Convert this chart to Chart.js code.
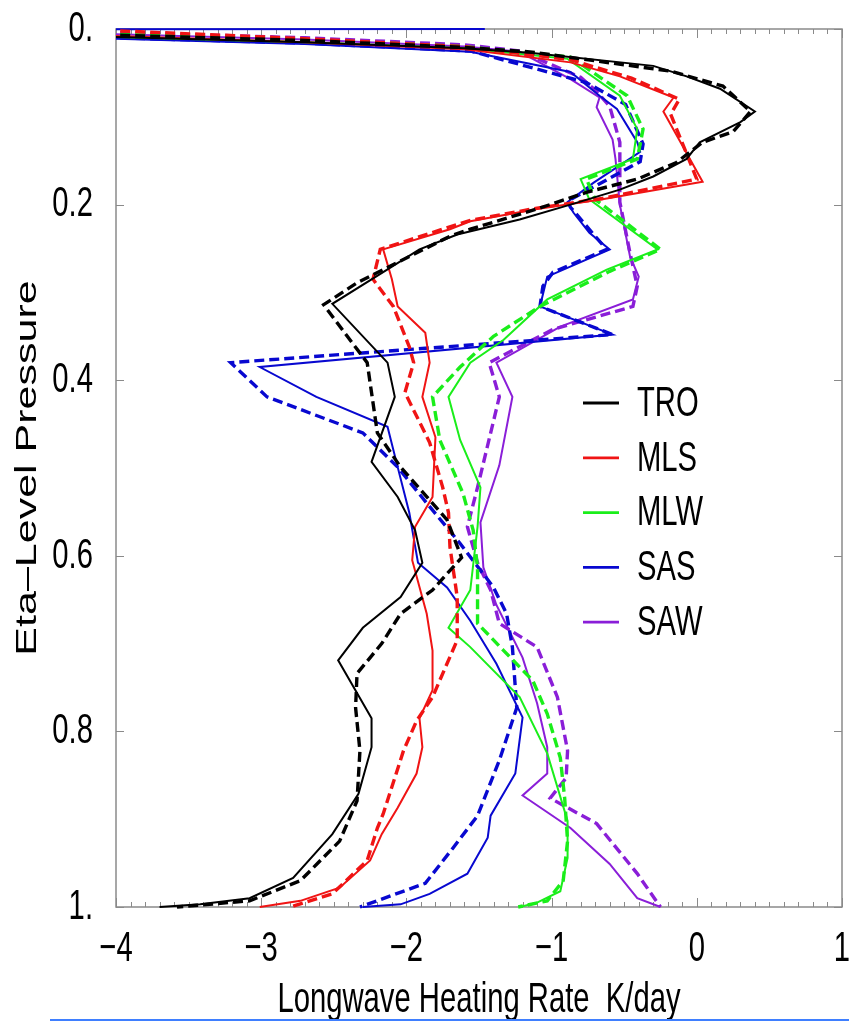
<!DOCTYPE html>
<html>
<head>
<meta charset="utf-8">
<script src="https://cdn.jsdelivr.net/npm/chart.js@4.4.1/dist/chart.umd.min.js"></script>
<style>
  html, body { margin: 0; padding: 0; background: #fff; }
  #wrap { position: relative; width: 849px; height: 1022px; overflow: hidden; }
  #rule { position: absolute; left: 50px; right: 0; top: 1019px; height: 2px; background: #3f7fff; }
</style>
</head>
<body>
<div id="wrap">
  <canvas id="lwChart" width="849" height="1022"></canvas>
  <div id="rule"></div>
</div>
<script>
// heating rate (K/day), eta level, [x, y]
const TRO = [[-8,0.001],[-4,0.009],[-2.7,0.015],[-1.6,0.022],[-1.15,0.027],[-0.30,0.042],[-0.07,0.054],[0.16,0.068],[0.40,0.094],[0.30,0.106],[0.02,0.129],[-0.07,0.148],[-0.30,0.168],[-0.53,0.183],[-0.87,0.200],[-1.22,0.217],[-1.65,0.234],[-1.91,0.251],[-2.16,0.277],[-2.51,0.313],[-2.13,0.380],[-2.08,0.419],[-2.24,0.493],[-2.06,0.533],[-1.94,0.571],[-1.89,0.608],[-2.04,0.647],[-2.30,0.682],[-2.47,0.719],[-2.24,0.785],[-2.24,0.818],[-2.33,0.871],[-2.51,0.917],[-2.78,0.967],[-3.08,0.990],[-3.42,0.997],[-3.70,1.0]];
const TRO_dash = [[-8,0.0],[-4,0.007],[-2.7,0.013],[-1.6,0.021],[-1.15,0.026],[-0.18,0.048],[0.18,0.065],[0.37,0.094],[0.25,0.117],[0.04,0.129],[-0.14,0.152],[-0.41,0.171],[-0.76,0.186],[-1.10,0.205],[-1.56,0.228],[-1.70,0.236],[-2.11,0.270],[-2.34,0.289],[-2.57,0.314],[-2.27,0.380],[-2.20,0.460],[-2.04,0.499],[-1.72,0.559],[-1.62,0.602],[-1.82,0.639],[-2.04,0.666],[-2.17,0.700],[-2.34,0.734],[-2.35,0.773],[-2.32,0.822],[-2.34,0.879],[-2.46,0.925],[-2.73,0.970],[-3.08,0.993],[-3.58,1.0]];
const MLS = [[-8,0.001],[-4,0.008],[-2.7,0.015],[-1.6,0.023],[-0.87,0.038],[-0.53,0.054],[-0.16,0.078],[-0.23,0.094],[0.04,0.174],[-0.65,0.194],[-1.10,0.205],[-1.56,0.219],[-1.70,0.228],[-2.16,0.251],[-2.10,0.285],[-2.06,0.316],[-1.87,0.346],[-1.84,0.380],[-1.89,0.419],[-1.80,0.465],[-1.82,0.533],[-1.94,0.567],[-1.96,0.605],[-1.86,0.666],[-1.82,0.708],[-1.82,0.753],[-1.91,0.785],[-1.89,0.818],[-1.93,0.848],[-2.06,0.887],[-2.17,0.917],[-2.25,0.947],[-2.46,0.978],[-2.73,0.993],[-3.01,1.0]];
const MLS_dash = [[-8,0.0],[-4,0.002],[-2.7,0.011],[-1.6,0.020],[-0.87,0.035],[-0.45,0.056],[-0.12,0.080],[-0.18,0.097],[0.0,0.171],[-0.65,0.193],[-1.10,0.204],[-1.56,0.218],[-1.75,0.228],[-2.18,0.251],[-2.23,0.285],[-2.09,0.316],[-1.98,0.362],[-1.95,0.380],[-2.01,0.414],[-1.84,0.471],[-1.75,0.522],[-1.71,0.551],[-1.70,0.590],[-1.65,0.647],[-1.65,0.696],[-1.82,0.761],[-1.93,0.788],[-2.02,0.822],[-2.16,0.894],[-2.20,0.910],[-2.27,0.947],[-2.51,0.985],[-2.80,1.0]];
const MLW = [[-8,0.001],[-4,0.009],[-2.7,0.015],[-1.6,0.022],[-0.89,0.034],[-0.53,0.076],[-0.41,0.114],[-0.44,0.148],[-0.80,0.171],[-0.74,0.194],[-0.27,0.251],[-0.62,0.274],[-1.03,0.308],[-1.33,0.354],[-1.56,0.380],[-1.71,0.419],[-1.63,0.468],[-1.49,0.522],[-1.51,0.567],[-1.56,0.639],[-1.71,0.682],[-1.56,0.704],[-1.22,0.761],[-1.03,0.825],[-0.89,0.902],[-0.89,0.944],[-0.94,0.982],[-1.10,0.995],[-1.22,1.0]];
const MLW_dash = [[-8,0.0],[-4,0.006],[-2.7,0.012],[-1.6,0.020],[-0.87,0.032],[-0.48,0.076],[-0.37,0.114],[-0.41,0.148],[-0.76,0.171],[-0.70,0.194],[-0.25,0.251],[-0.60,0.276],[-1.08,0.316],[-1.40,0.350],[-1.63,0.385],[-1.82,0.419],[-1.77,0.468],[-1.61,0.529],[-1.54,0.571],[-1.51,0.613],[-1.51,0.677],[-1.33,0.708],[-1.13,0.742],[-1.03,0.780],[-0.94,0.830],[-0.91,0.876],[-0.89,0.925],[-0.92,0.970],[-1.03,0.993],[-1.23,1.0]];
const SAS = [[-1.46,0.0],[-40,0.004],[-4,0.011],[-2.7,0.017],[-1.56,0.026],[-0.87,0.049],[-0.67,0.076],[-0.55,0.091],[-0.41,0.129],[-0.39,0.140],[-0.71,0.175],[-0.89,0.197],[-0.85,0.209],[-0.74,0.232],[-0.60,0.251],[-1.03,0.282],[-1.08,0.316],[-0.58,0.348],[-3.01,0.385],[-2.62,0.419],[-2.13,0.453],[-2.06,0.499],[-1.98,0.551],[-1.92,0.608],[-1.72,0.636],[-1.56,0.674],[-1.38,0.723],[-1.20,0.784],[-1.25,0.848],[-1.42,0.896],[-1.44,0.921],[-1.58,0.962],[-1.84,0.985],[-2.04,0.997],[-2.30,1.0]];
const SAS_dash = [[-8,0.001],[-4,0.010],[-2.7,0.016],[-1.56,0.025],[-0.76,0.061],[-0.49,0.086],[-0.37,0.131],[-0.39,0.151],[-0.89,0.196],[-0.87,0.203],[-0.70,0.236],[-0.62,0.251],[-0.99,0.277],[-1.06,0.293],[-1.08,0.316],[-0.58,0.348],[-3.21,0.380],[-2.96,0.419],[-2.30,0.460],[-2.06,0.499],[-1.86,0.540],[-1.63,0.586],[-1.40,0.636],[-1.31,0.666],[-1.27,0.704],[-1.24,0.773],[-1.36,0.833],[-1.51,0.896],[-1.68,0.933],[-1.87,0.973],[-2.32,1.0]];
const SAW = [[-8,0.0],[-4,0.006],[-2.7,0.012],[-1.6,0.020],[-1.22,0.026],[-0.87,0.057],[-0.67,0.078],[-0.69,0.089],[-0.58,0.126],[-0.56,0.148],[-0.53,0.200],[-0.46,0.259],[-0.40,0.282],[-0.44,0.308],[-0.94,0.339],[-1.38,0.380],[-1.27,0.419],[-1.36,0.497],[-1.49,0.562],[-1.47,0.613],[-1.38,0.656],[-1.20,0.716],[-1.10,0.768],[-1.03,0.818],[-1.03,0.848],[-1.20,0.873],[-0.87,0.910],[-0.60,0.951],[-0.41,0.990],[-0.25,1.0]];
const SAW_dash = [[-8,0.0],[-4,0.004],[-2.7,0.010],[-1.6,0.018],[-1.22,0.025],[-0.80,0.055],[-0.69,0.071],[-0.60,0.088],[-0.53,0.129],[-0.53,0.152],[-0.53,0.197],[-0.46,0.255],[-0.41,0.293],[-0.44,0.316],[-0.99,0.342],[-1.43,0.380],[-1.36,0.419],[-1.51,0.522],[-1.58,0.567],[-1.51,0.608],[-1.42,0.639],[-1.36,0.677],[-1.10,0.704],[-0.96,0.761],[-0.89,0.822],[-0.90,0.853],[-1.01,0.876],[-0.69,0.905],[-0.41,0.962],[-0.25,1.0]];

const names = ["TRO", "MLS", "MLW", "SAS", "SAW"];
const colors = ["#000000", "#f01414", "#1aee1a", "#0808d0", "#8a1ed8"];
const solidSeries = [TRO, MLS, MLW, SAS, SAW];
const dashedSeries = [TRO_dash, MLS_dash, MLW_dash, SAS_dash, SAW_dash];
const xTicks = [-4, -3, -2, -1, 0, 1];
const yTicks = [0, 0.2, 0.4, 0.6, 0.8, 1];

const FONT = '"Liberation Sans", Arial, Helvetica, sans-serif';
const SQUEEZE = 0.68; // the original figure's lettering is tall and narrow
const toPts = arr => arr.map(p => ({ x: p[0], y: p[1] }));

const datasets = [];
names.forEach((n, i) => {
  datasets.push({
    label: n,
    data: toPts(solidSeries[i]),
    borderColor: colors[i],
    borderWidth: 2,
    showLine: true,
    pointRadius: 0,
    clip: { left: 0, right: 0, top: 3, bottom: 3 },
  });
  datasets.push({
    label: n + " dashed",
    data: toPts(dashedSeries[i]),
    borderColor: colors[i],
    borderWidth: 3.4,
    borderDash: [10, 5],
    showLine: true,
    pointRadius: 0,
    clip: { left: 0, right: 0, top: 3, bottom: 3 },
  });
});

// condense every text glyph around its anchor point
const squeezeText = {
  id: "squeezeText",
  beforeInit(chart) {
    const ctx = chart.ctx;
    const fill = ctx.fillText.bind(ctx);
    ctx.fillText = function (text, x, y) {
      const m = ctx.getTransform();
      ctx.save();
      ctx.translate(x, y);
      if (Math.abs(m.b) > 0.5) ctx.scale(1, SQUEEZE);
      else ctx.scale(SQUEEZE, 1);
      fill(text, 0, 0);
      ctx.restore();
    };
  },
};

// frame + inward tick marks on all four sides
const frameTicks = {
  id: "frameTicks",
  beforeDatasetsDraw(chart) {
    const { ctx, chartArea: a, scales: { x, y } } = chart;
    ctx.save();
    ctx.strokeStyle = "#8a8a8a";
    ctx.lineWidth = 1.5;
    ctx.strokeRect(a.left, a.top, a.right - a.left, a.bottom - a.top);
    ctx.lineWidth = 1;
    ctx.beginPath();
    for (let i = 0; i <= 50; i++) {
      const v = xTicks[0] + i * 0.1;
      const px = Math.round(x.getPixelForValue(v)) + 0.5;
      const len = i % 10 === 0 ? 9 : 5;
      ctx.moveTo(px, a.top); ctx.lineTo(px, a.top + len);
      ctx.moveTo(px, a.bottom); ctx.lineTo(px, a.bottom - len);
    }
    yTicks.forEach(v => {
      const py = Math.round(y.getPixelForValue(v)) + 0.5;
      ctx.moveTo(a.left, py); ctx.lineTo(a.left + 8, py);
      ctx.moveTo(a.right, py); ctx.lineTo(a.right - 8, py);
    });
    ctx.stroke();
    ctx.restore();
  },
};

// legend inside the plot, solid line samples
const lineLegend = {
  id: "lineLegend",
  afterDatasetsDraw(chart) {
    const { ctx } = chart;
    ctx.save();
    ctx.font = "43px " + FONT;
    ctx.textBaseline = "middle";
    ctx.textAlign = "left";
    ctx.fillStyle = "#000";
    names.forEach((n, i) => {
      const yy = 403 + i * 54.8;
      ctx.strokeStyle = colors[i];
      ctx.lineWidth = 2.8;
      ctx.beginPath();
      ctx.moveTo(583, yy);
      ctx.lineTo(619, yy);
      ctx.stroke();
      ctx.fillText(n, 637, yy + 1);
    });
    ctx.restore();
  },
};

new Chart(document.getElementById("lwChart"), {
  type: "scatter",
  data: { datasets },
  options: {
    responsive: false,
    animation: false,
    layout: { padding: { top: 29, right: 7, left: 0, bottom: 0 } },
    plugins: { legend: { display: false }, tooltip: { enabled: false } },
    elements: { line: { tension: 0 } },
    scales: {
      x: {
        type: "linear",
        min: -4,
        max: 1,
        afterFit: s => { s.height = 115; s.paddingLeft = 0; s.paddingRight = 0; },
        afterBuildTicks: s => { s.ticks = xTicks.map(v => ({ value: v })); },
        grid: { display: false },
        border: { display: false },
        ticks: {
          color: "#000",
          padding: 8,
          maxRotation: 0,
          font: { family: FONT, size: 43 },
          callback: v => (v < 0 ? "\u2212" + Math.abs(v) : String(v)),
        },
        title: {
          display: true,
          text: "Longwave Heating Rate  K/day",
          color: "#000",
          font: { family: FONT, size: 43 },
          padding: { top: 0, bottom: -4 },
        },
      },
      y: {
        type: "linear",
        reverse: true,
        min: 0,
        max: 1,
        afterFit: s => { s.width = 116; s.paddingTop = 0; s.paddingBottom = 0; },
        afterBuildTicks: s => { s.ticks = yTicks.map(v => ({ value: v })); },
        grid: { display: false },
        border: { display: false },
        ticks: {
          color: "#000",
          padding: 15,
          font: { family: FONT, size: 43 },
          callback: v => (v === 0 ? "0." : Math.abs(v - 1) < 1e-9 ? "1." : v.toFixed(1)),
        },
        title: {
          display: true,
          text: "Eta\u2013Level Pressure",
          color: "#000",
          font: { family: FONT, size: 43 },
          padding: { top: 2, bottom: 0 },
        },
      },
    },
  },
  plugins: [squeezeText, frameTicks, lineLegend],
});
</script>
</body>
</html>
